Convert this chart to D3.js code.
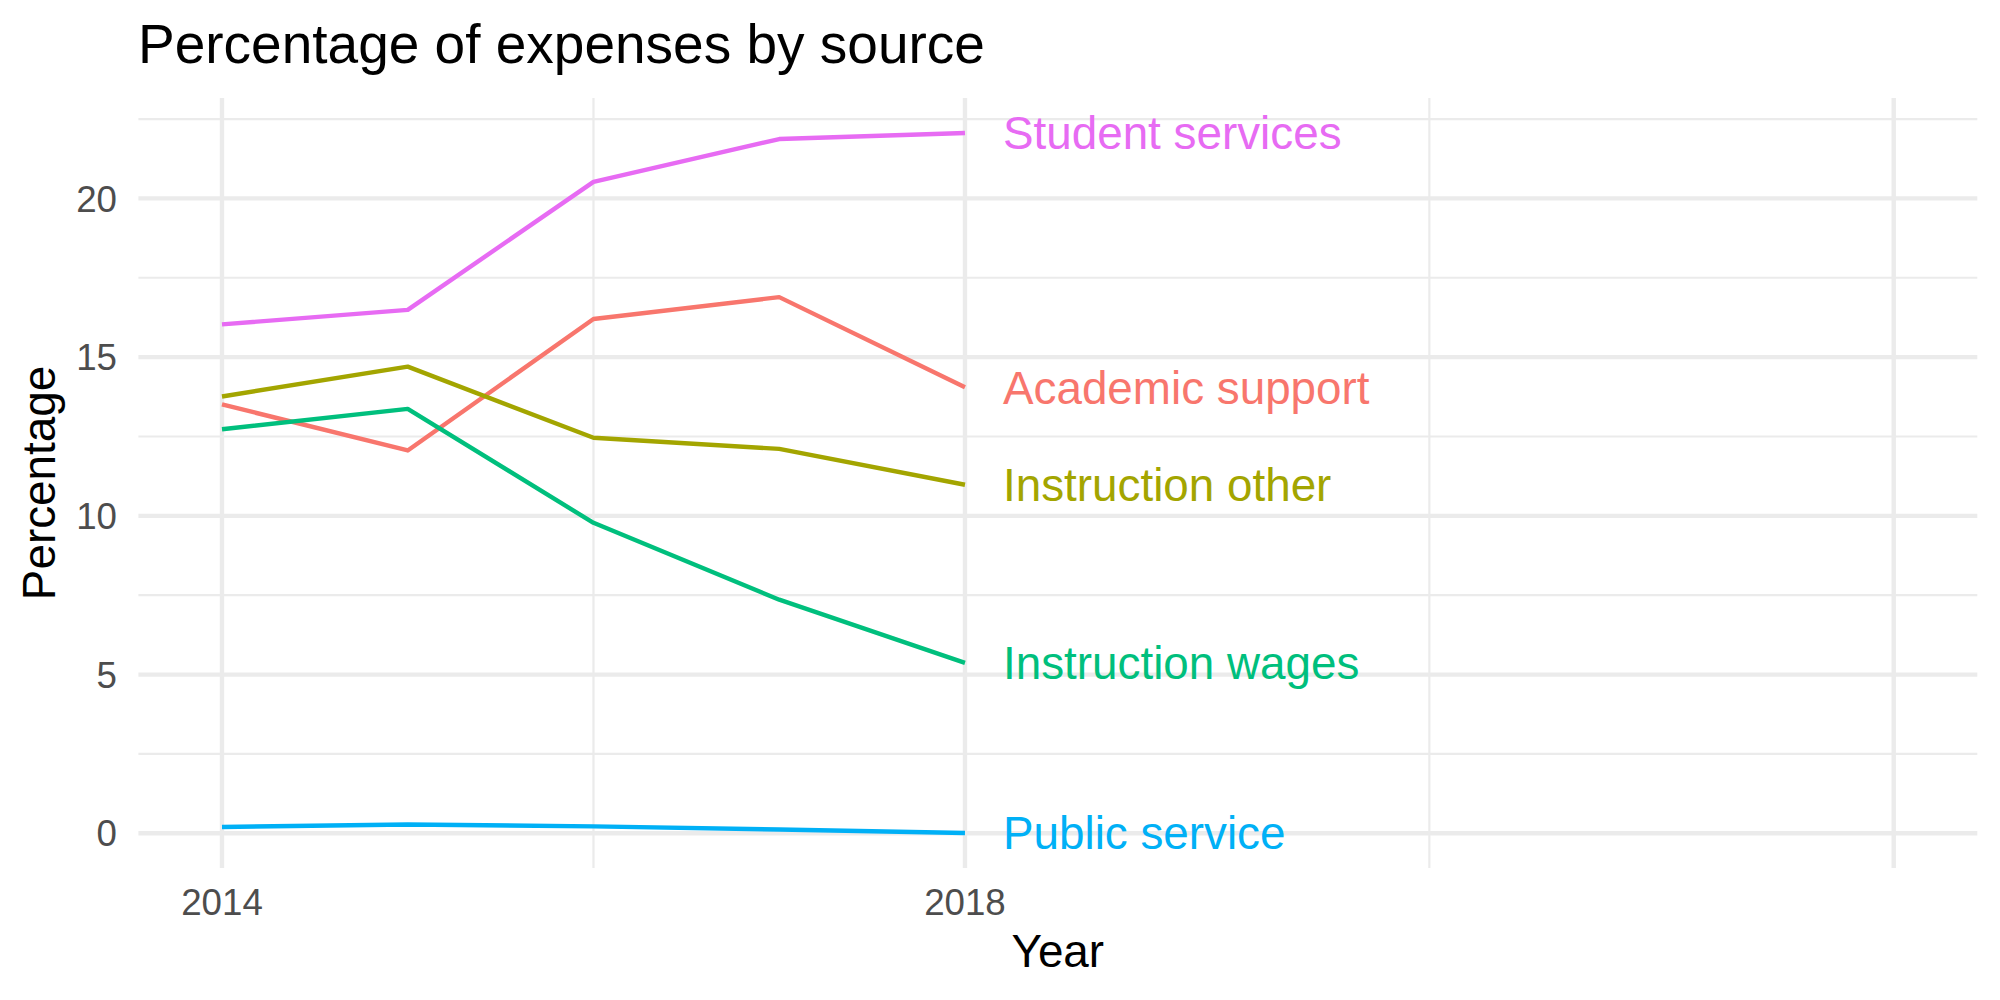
<!DOCTYPE html>
<html>
<head>
<meta charset="utf-8">
<script src="https://cdn.jsdelivr.net/npm/d3@7"></script>
<style>
  html, body { margin: 0; padding: 0; background: #ffffff; }
  svg { display: block; font-family: "Liberation Sans", Arial, Helvetica, sans-serif; }
</style>
</head>
<body>
<svg id="chart" width="2000" height="1000"></svg>
<script>
// ---- Data ----
const years = [2014, 2015, 2016, 2017, 2018];
const seriesNames = ["Academic support", "Instruction other", "Instruction wages", "Public service", "Student services"];
const academicSupport  = [13.51, 12.06, 16.20, 16.89, 14.05];
const instructionOther = [13.76, 14.70, 12.46, 12.11, 10.98];
const instructionWages = [12.73, 13.37, 9.78, 7.36, 5.37];
const publicService    = [0.20, 0.28, 0.22, 0.12, 0.01];
const studentServices  = [16.03, 16.49, 20.52, 21.87, 22.06];
const seriesColors = ["#F8766D", "#A3A500", "#00BF7D", "#00B0F6", "#E76BF3"];
const xMajorBreaks = [2014, 2018, 2023];
const xMajorLabels = ["2014", "2018", ""];
const xMinorBreaks = [2016, 2020.5];
const xLimits = [2014, 2023];
const yMajorBreaks = [0, 5, 10, 15, 20];
const yMinorBreaks = [2.5, 7.5, 12.5, 17.5, 22.5];
const titleText = "Percentage of expenses by source";
const xTitle = "Year";
const yTitle = "Percentage";

const seriesValues = [academicSupport, instructionOther, instructionWages, publicService, studentServices];
const series = seriesNames.map((name, i) => ({
  name, color: seriesColors[i],
  points: years.map((yr, j) => ({ x: yr, y: seriesValues[i][j] }))
}));

// ---- Layout ----
const svg = d3.select("#chart");
const panel = { left: 138.4, right: 1977.3, top: 98, bottom: 868 };

const xSpan = xLimits[1] - xLimits[0];
const x = d3.scaleLinear()
  .domain([xLimits[0] - 0.05 * xSpan, xLimits[1] + 0.05 * xSpan])
  .range([panel.left, panel.right]);

const allY = seriesValues.flat();
const yExt = d3.extent(allY);
const ySpan = yExt[1] - yExt[0];
const y = d3.scaleLinear()
  .domain([yExt[0] - 0.05 * ySpan, yExt[1] + 0.05 * ySpan])
  .range([panel.bottom, panel.top]);

const grid = "#EBEBEB";
const gGrid = svg.append("g");

// minor grid
gGrid.selectAll(".ymin").data(yMinorBreaks.filter(v => v >= y.domain()[0] && v <= y.domain()[1]))
  .enter().append("line")
  .attr("x1", panel.left).attr("x2", panel.right)
  .attr("y1", d => y(d)).attr("y2", d => y(d))
  .attr("stroke", grid).attr("stroke-width", 2.2);
gGrid.selectAll(".xmin").data(xMinorBreaks)
  .enter().append("line")
  .attr("y1", panel.top).attr("y2", panel.bottom)
  .attr("x1", d => x(d)).attr("x2", d => x(d))
  .attr("stroke", grid).attr("stroke-width", 2.2);
// major grid
gGrid.selectAll(".ymaj").data(yMajorBreaks)
  .enter().append("line")
  .attr("x1", panel.left).attr("x2", panel.right)
  .attr("y1", d => y(d)).attr("y2", d => y(d))
  .attr("stroke", grid).attr("stroke-width", 4.4);
gGrid.selectAll(".xmaj").data(xMajorBreaks)
  .enter().append("line")
  .attr("y1", panel.top).attr("y2", panel.bottom)
  .attr("x1", d => x(d)).attr("x2", d => x(d))
  .attr("stroke", grid).attr("stroke-width", 4.4);

// ---- Lines ----
const line = d3.line().x(d => x(d.x)).y(d => y(d.y));
svg.append("g").selectAll("path").data(series).enter().append("path")
  .attr("d", d => line(d.points))
  .attr("fill", "none")
  .attr("stroke", d => d.color)
  .attr("stroke-width", 4.4)
  .attr("stroke-linejoin", "round")
  .attr("stroke-linecap", "butt");

// ---- End labels ----
const labelSize = 45.8;
svg.append("g").selectAll("text").data(series).enter().append("text")
  .attr("x", d => x(d.points[d.points.length - 1].x) + 38)
  .attr("y", d => y(d.points[d.points.length - 1].y) + 0.358 * labelSize)
  .attr("fill", d => d.color)
  .attr("font-size", labelSize)
  .text(d => d.name);

// ---- Axes text ----
const tickSize = 36.7;
const tickColor = "#4D4D4D";
svg.append("g").selectAll("text").data(yMajorBreaks).enter().append("text")
  .attr("x", 117)
  .attr("y", d => y(d) + 0.358 * tickSize)
  .attr("text-anchor", "end")
  .attr("font-size", tickSize)
  .attr("fill", tickColor)
  .text(d => d);

svg.append("g").selectAll("text").data(xMajorBreaks).enter().append("text")
  .attr("x", d => x(d))
  .attr("y", 915)
  .attr("text-anchor", "middle")
  .attr("font-size", tickSize)
  .attr("fill", tickColor)
  .text((d, i) => xMajorLabels[i]);

svg.append("text")
  .attr("x", (panel.left + panel.right) / 2)
  .attr("y", 967)
  .attr("text-anchor", "middle")
  .attr("font-size", 45.8)
  .attr("fill", "#000")
  .text(xTitle);

svg.append("text")
  .attr("transform", `translate(55,${(panel.top + panel.bottom) / 2}) rotate(-90)`)
  .attr("text-anchor", "middle")
  .attr("font-size", 45.8)
  .attr("fill", "#000")
  .text(yTitle);

svg.append("text")
  .attr("x", 138)
  .attr("y", 63)
  .attr("font-size", 55)
  .attr("fill", "#000")
  .text(titleText);
</script>
</body>
</html>
